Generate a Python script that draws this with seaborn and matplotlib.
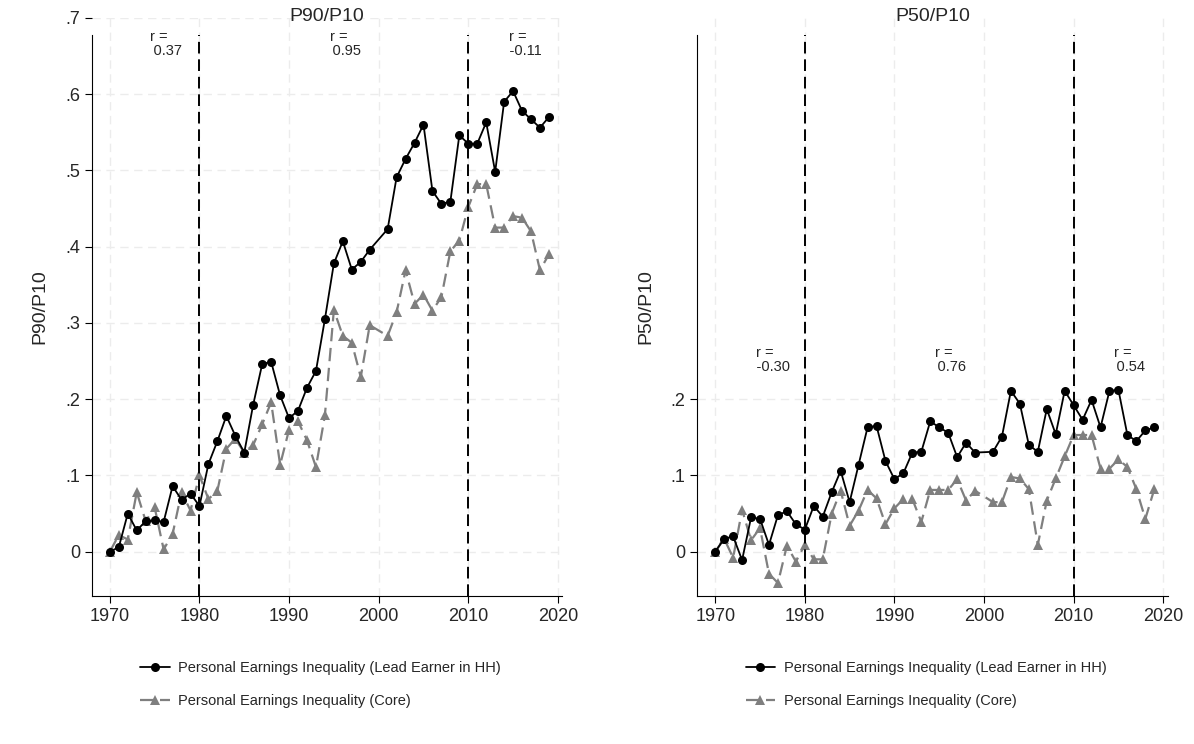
import numpy as np
import pandas as pd
import seaborn as sns
import matplotlib.pyplot as plt

years = [y for y in range(1970, 2020) if y != 2000]

p90_lead = [0, .006, .05, .028, .04, .041, .039, .086, .068, .076, .06, .115, .145, .178, .152, .13,
            .193, .246, .249, .205, .175, .185, .215, .237, .305, .378, .407, .37, .38, .396,
            .423, .491, .515, .536, .56, .473, .456, .459, .546, .535, .535, .563, .498, .59, .604,
            .578, .567, .556, .57]
p90_core = [0, .022, .016, .078, .04, .058, .003, .023, .078, .054, .1, .069, .08, .135, .148, .13,
            .14, .167, .196, .114, .16, .171, .146, .111, .179, .317, .283, .274, .229, .297,
            .283, .314, .369, .325, .337, .316, .334, .394, .408, .452, .482, .482, .425, .425, .44,
            .438, .42, .369, .39]
p50_lead = [0, .017, .02, -.011, .045, .043, .009, .048, .053, .036, .029, .06, .046, .078, .106, .065,
            .114, .163, .165, .119, .095, .103, .13, .131, .171, .163, .156, .124, .143, .13,
            .131, .151, .211, .194, .14, .131, .187, .154, .211, .192, .173, .199, .163, .211, .212,
            .153, .145, .159, .163]
p50_core = [0, .017, -.008, .055, .015, .031, -.029, -.041, .008, -.013, .009, -.01, -.01, .05, .08, .034,
            .054, .081, .07, .036, .057, .069, .069, .039, .081, .081, .081, .095, .067, .08,
            .065, .065, .098, .096, .082, .009, .067, .096, .125, .153, .153, .153, .109, .109, .121,
            .111, .082, .043, .082]

r_x = [1975.5, 1995.5, 2015.5]
r_p90 = ["0.37", "0.95", "-0.11"]
r_p50 = ["-0.30", "0.76", "0.54"]

sns.set_style("white")
plt.rcParams['font.family'] = ['Liberation Sans', 'DejaVu Sans']

fig = plt.figure(figsize=(11.94, 7.44), dpi=100)
ax1 = fig.add_axes([0.077, 0.199, 0.394, 0.777])
ax2 = fig.add_axes([0.584, 0.199, 0.394, 0.777])

panels = [(ax1, "P90/P10", p90_lead, p90_core, r_p90, [0, .1, .2, .3, .4, .5, .6, .7], 0.648),
          (ax2, "P50/P10", p50_lead, p50_core, r_p50, [0, .1, .2], 0.233)]

for ax, name, lead, core, rs, yt, ry in panels:
    df = pd.DataFrame({'year': years, 'lead': lead, 'core': core})
    sns.lineplot(data=df, x='year', y='core', ax=ax, color='#7f7f7f', linestyle=(0, (6, 3)),
                 marker='^', markersize=6.5, markeredgewidth=0, lw=1.6,
                 label='Personal Earnings Inequality (Core)')
    sns.lineplot(data=df, x='year', y='lead', ax=ax, color='black', marker='o', markersize=6.5,
                 markeredgewidth=0, lw=1.3, label='Personal Earnings Inequality (Lead Earner in HH)')
    ax.set_xlim(1968, 2020.5)
    ax.set_ylim(-0.058, 0.7)
    ax.set_xticks(range(1970, 2021, 10))
    ax.set_yticks(yt)
    ax.set_yticklabels(['0' if v == 0 else ('%.1f' % v)[1:] for v in yt])
    ax.grid(True, color='#ececec', linestyle=(0, (6, 4)), lw=1)
    for v in [1980, 2010]:
        ax.axvline(v, ymax=0.97, color='black', linestyle=(0, (6, 3)), lw=1.4)
    for x, t in zip(r_x, rs):
        ax.text(x, ry, "r =\n    " + t, fontsize=10.5, ha='center', va='bottom', linespacing=1.0)
    ax.set_title(name, fontsize=14, pad=-2)
    ax.set_xlabel('')
    ax.set_ylabel(name, fontsize=14, labelpad=12)
    ax.tick_params(axis='both', labelsize=13, length=5, left=True, bottom=True, color='black')
    for s in ['top', 'right']:
        ax.spines[s].set_visible(False)
    for s in ['left', 'bottom']:
        ax.spines[s].set_color('black')
    ax.spines['left'].set_bounds(-0.058, 0.677)
    h, l = ax.get_legend_handles_labels()
    ax.legend(h[::-1], l[::-1], loc='upper left', bbox_to_anchor=(0.075, -0.09), frameon=False,
              fontsize=10.5, handlelength=2.0, handletextpad=0.6, labelspacing=1.3)

fig.savefig('out.png', dpi=100)
